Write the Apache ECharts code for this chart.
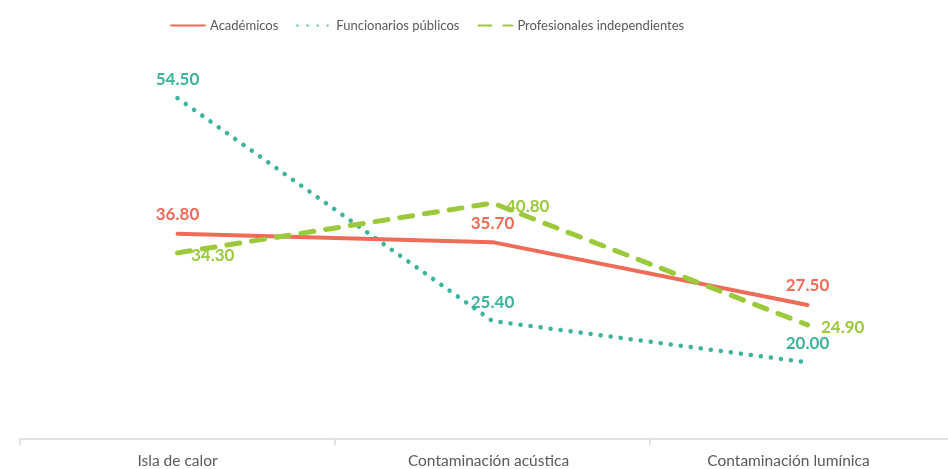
<!DOCTYPE html>
<html>
<head>
<meta charset="utf-8">
<script src="https://cdn.jsdelivr.net/npm/echarts@6/dist/echarts.min.js"></script>
<style>
  html, body { margin: 0; padding: 0; background: #fff; overflow: hidden; }
  /* plot area runs past the right edge of the window */
  #chart { width: 966px; height: 469px; }
</style>
</head>
<body>
<div id="chart"></div>
<script>
// Categories and series values
const categories = ['Isla de calor', 'Contaminación acústica', 'Contaminación lumínica'];
const seriesNames = ['Académicos', 'Funcionarios públicos', 'Profesionales independientes'];
const academicos = [36.8, 35.7, 27.5];
const funcionarios = [54.5, 25.4, 20.0];
const profesionales = [34.3, 40.8, 24.9];

const FONT = 'Lato, "Noto Sans", sans-serif';
const RED = '#EE6B57';
const TEAL = '#3DB39B';
const GREEN = '#9CC83B';

function labelStyle(color, position, distance, offset) {
  return {
    show: true,
    position: position,
    distance: distance,
    offset: offset || [0, 0],
    color: color,
    fontFamily: FONT,
    fontSize: 17,
    fontWeight: 'bold',
    formatter: p => p.value.toFixed(2)
  };
}

// Transparent point markers so the value labels still render
function lineSeries(name, data, color, lineStyle, label, z) {
  return {
    name: name,
    type: 'line',
    data: data,
    symbol: 'circle',
    symbolSize: 1,
    showSymbol: true,
    itemStyle: { color: 'rgba(0,0,0,0)' },
    lineStyle: Object.assign({ color: color }, lineStyle),
    label: label,
    z: z
  };
}

// Category labels nudged left a little (the last one sits near the right edge)
const labelShift = [0, 8, 38];

const chart = echarts.init(document.getElementById('chart'), null, { renderer: 'canvas' });
chart.setOption({
  animation: false,
  backgroundColor: '#ffffff',
  legend: {
    top: 14,
    left: 165,
    itemWidth: 34,
    itemHeight: 12,
    itemGap: 18,
    textStyle: { color: '#595959', fontFamily: FONT, fontSize: 13 },
    data: seriesNames
  },
  grid: { left: 20, right: 1, top: 56, bottom: 29, containLabel: false },
  xAxis: {
    type: 'category',
    data: categories,
    boundaryGap: true,
    axisLine: { show: true, lineStyle: { color: '#D9D9D9', width: 1.5 } },
    axisTick: { show: true, length: 6, lineStyle: { color: '#D9D9D9', width: 1.5 } },
    axisLabel: {
      color: '#595959', fontFamily: FONT, fontSize: 15.5, margin: 14,
      formatter: (v, i) => '{c' + i + '|' + v + '}',
      rich: {
        c0: { color: '#595959', fontFamily: FONT, fontSize: 15.5, padding: [0, labelShift[0], 0, 0] },
        c1: { color: '#595959', fontFamily: FONT, fontSize: 15.5, padding: [0, labelShift[1], 0, 0] },
        c2: { color: '#595959', fontFamily: FONT, fontSize: 15.5, padding: [0, labelShift[2], 0, 0] }
      }
    }
  },
  yAxis: {
    type: 'value',
    min: 10,
    max: 60,
    show: false,
    splitLine: { show: false }
  },
  series: [
    lineSeries(seriesNames[0], academicos, RED,
      { width: 4, cap: 'round' }, labelStyle(RED, 'top', 10), 3),
    lineSeries(seriesNames[1], funcionarios, TEAL,
      { width: 4.5, type: [0.1, 10], cap: 'round' }, labelStyle(TEAL, 'top', 10), 2),
    lineSeries(seriesNames[2], profesionales, GREEN,
      { width: 5, type: [13, 12], cap: 'round' }, labelStyle(GREEN, 'right', 13, [0, 3]), 4)
  ]
});
</script>
</body>
</html>
